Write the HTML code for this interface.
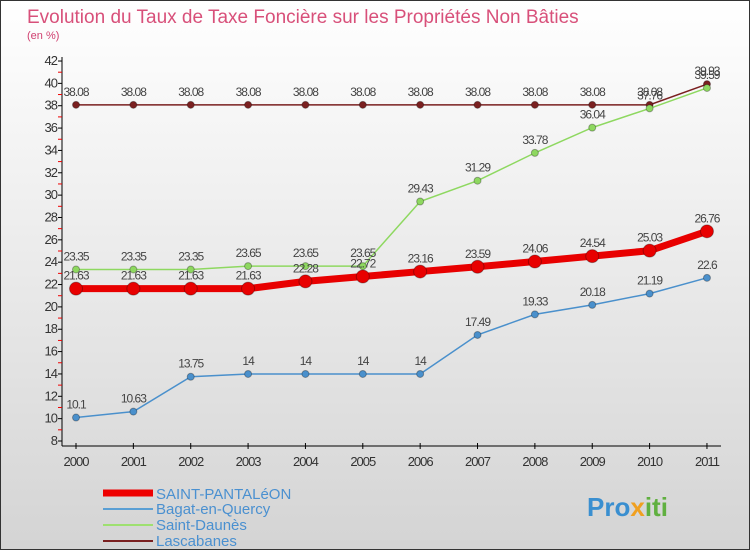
<!DOCTYPE html>
<html><head><meta charset="utf-8"><style>
body{margin:0}
#c{width:748px;height:548px;border:1px solid #333;background:linear-gradient(#fff,#d4d4d4);position:relative;font-family:"Liberation Sans",sans-serif;overflow:hidden}
</style></head><body>
<div id="c">
<svg id="s" width="748" height="548" style="position:absolute;left:0;top:0">
<text x="26" y="22" font-size="19" fill="#d8507a">Evolution du Taux de Taxe Foncière sur les Propriétés Non Bâties</text>
<text x="26" y="38" font-size="11" fill="#d04070">(en %)</text>
<g id="axes"></g><g id="series"></g>
<g>
<line x1="102" y1="492" x2="152" y2="492" stroke="#e00" stroke-width="7"/><text x="155" y="498" font-size="15" fill="#4a90d0">SAINT-PANTALéON</text>
<line x1="102" y1="508" x2="152" y2="508" stroke="#5a9fd4" stroke-width="2"/><text x="155" y="513" font-size="15" fill="#4a90d0">Bagat-en-Quercy</text>
<line x1="102" y1="524" x2="152" y2="524" stroke="#9ee070" stroke-width="2"/><text x="155" y="529" font-size="15" fill="#4a90d0">Saint-Daunès</text>
<line x1="102" y1="540" x2="152" y2="540" stroke="#7a2020" stroke-width="2"/><text x="155" y="545" font-size="15" fill="#4a90d0">Lascabanes</text>
</g>
<text x="586" y="515" font-size="26" font-weight="bold" fill="#3a8fd0">Pro<tspan fill="#f0a020">x</tspan><tspan fill="#60b040">iti</tspan></text>
</svg>
</div>
<script>
const years=["2000","2001","2002","2003","2004","2005","2006","2007","2008","2009","2010","2011"];
const yTicks=[8,10,12,14,16,18,20,22,24,26,28,30,32,34,36,38,40,42];
const stPantaleon=[21.63,21.63,21.63,21.63,22.28,22.72,23.16,23.59,24.06,24.54,25.03,26.76];
const bagat=[10.1,10.63,13.75,14,14,14,14,17.49,19.33,20.18,21.19,22.6];
const stDaunes=[23.35,23.35,23.35,23.65,23.65,23.65,29.43,31.29,33.78,36.04,37.76,39.59];
const lascabanes=[38.08,38.08,38.08,38.08,38.08,38.08,38.08,38.08,38.08,38.08,38.08,39.93];
const NS="http://www.w3.org/2000/svg";
const X=i=>75+i*57.36, Y=v=>440-(v-8)*11.176;
function mk(t,a,p){const e=document.createElementNS(NS,t);for(const k in a)e.setAttribute(k,a[k]);p.appendChild(e);return e;}
const ax=document.getElementById('axes'),sg=document.getElementById('series');
mk('line',{x1:61,y1:56,x2:61,y2:445,stroke:'#000'},ax);
mk('line',{x1:61,y1:445,x2:720,y2:445,stroke:'#000'},ax);
yTicks.forEach(v=>{mk('line',{x1:57,y1:Y(v),x2:61,y2:Y(v),stroke:'#000'},ax);
 if(v<42)mk('line',{x1:57,y1:Y(v+1),x2:61,y2:Y(v+1),stroke:'#e00'},ax);
 const t=mk('text',{x:56,y:Y(v)+4,'font-size':13,'text-anchor':'end',fill:'#333','letter-spacing':'-1'},ax);t.textContent=v;});
years.forEach((y,i)=>{mk('line',{x1:X(i),y1:442,x2:X(i),y2:448,stroke:'#000'},ax);
 const t=mk('text',{x:X(i),y:465,'font-size':13,'text-anchor':'middle',fill:'#333','letter-spacing':'-1'},ax);t.textContent=y;});
function series(name,d,col,w,r){const g=mk('g',{},sg);
 
 
 mk('polyline',{points:d.map((v,i)=>X(i)+','+Y(v)).join(' '),fill:'none',stroke:col,'stroke-width':w},g);
 d.forEach((v,i)=>{const c=mk('circle',{cx:X(i),cy:Y(v),r:r,fill:col,stroke:'rgba(0,0,0,0.3)'},g);
  
  
  const t=mk('text',{x:X(i),y:Y(v)-9,'font-size':12,'text-anchor':'middle',fill:'#444','letter-spacing':'-1'},g);t.textContent=v;});}
series('series-lascabanes',lascabanes,'#7a2020',1.5,3.5);
series('series-saint-daunes',stDaunes,'#8ed860',1.5,3.5);
series('series-bagat',bagat,'#4a90cc',1.5,3.5);
series('series-saint-pantaleon',stPantaleon,'#e80000',7,6.5);
</script>
</body></html>
